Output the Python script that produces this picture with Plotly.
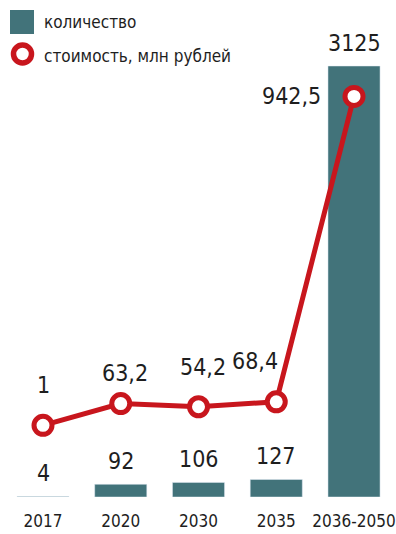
import plotly.graph_objects as go

categories = ["2017", "2020", "2030", "2035", "2036-2050"]
quantity = [4, 92, 106, 127, 3125]
cost = [1, 63.2, 54.2, 68.4, 942.5]
cost_labels = ["1", "63,2", "54,2", "68,4", "942,5"]
quantity_labels = [str(v) for v in quantity]
legend_labels = ["количество", "стоимость, млн рублей"]

BAR_COLOR = "#42737a"
RED = "#c8161d"
TEXT = "#1e1e1e"
FONT = "DejaVu Sans Condensed, DejaVu Sans, sans-serif"


def fnt(size):
    return dict(size=size, color=TEXT, family=FONT)


W, H = 396, 534
PLOT_H = 497

fig = go.Figure()
fig.add_trace(go.Bar(x=categories, y=quantity, marker_color=BAR_COLOR, width=0.67,
                     name=legend_labels[0], showlegend=False, hoverinfo="skip"))
fig.add_trace(go.Scatter(x=categories, y=cost, yaxis="y2", mode="lines+markers",
                         line=dict(color=RED, width=5),
                         marker=dict(size=18, color="white", line=dict(color=RED, width=5)),
                         name=legend_labels[1], showlegend=False, hoverinfo="skip"))

ann = []
for i, (v, t) in enumerate(zip(quantity, quantity_labels)):
    ann.append(dict(x=i, y=v, xref="x", yref="y", text=t, showarrow=False,
                    yanchor="middle", yshift=23, font=fnt(23)))
cost_shift = [(0, 40), (4, 31), (4, 40), (-21, 41), (-63, 0)]
for i, (v, t, (dx, dy)) in enumerate(zip(cost, cost_labels, cost_shift)):
    ann.append(dict(x=i, y=v, xref="x", yref="y2", text=t, showarrow=False,
                    yanchor="middle", xshift=dx, yshift=dy, font=fnt(23)))


def px(x):
    return x / W


def py(y):
    return 1 - y / PLOT_H


# manual legend
ann.append(dict(x=px(42), y=py(22), xref="paper", yref="paper", text=legend_labels[0],
                showarrow=False, xanchor="left", yanchor="middle", font=fnt(17)))
ann.append(dict(x=px(42), y=py(56), xref="paper", yref="paper", text=legend_labels[1],
                showarrow=False, xanchor="left", yanchor="middle", font=fnt(17)))
shapes = [
    dict(type="rect", xref="paper", yref="paper", x0=px(10), x1=px(34), y0=py(34), y1=py(10),
         fillcolor=BAR_COLOR, line=dict(width=0)),
    dict(type="circle", xref="paper", yref="paper", x0=px(13.5), x1=px(31.5), y0=py(63), y1=py(45),
         fillcolor="white", line=dict(color=RED, width=5.5)),
]

fig.update_layout(
    width=W, height=H,
    margin=dict(l=0, r=0, t=0, b=H - PLOT_H),
    paper_bgcolor="white", plot_bgcolor="white",
    annotations=ann, shapes=shapes,
    xaxis=dict(type="category", range=[-0.553, 4.54], showgrid=False, zeroline=False,
               showline=False, ticks="", ticklabelstandoff=12, tickfont=fnt(17)),
    yaxis=dict(range=[0, 3603.5], visible=False, showgrid=False, zeroline=False),
    yaxis2=dict(range=[-204.1, 1218.4], overlaying="y", visible=False, showgrid=False, zeroline=False),
    showlegend=False,
)
fig.write_html("out.html", config={"displayModeBar": False, "staticPlot": True},
               post_script="document.body.style.margin='0';document.body.style.overflow='hidden';")
